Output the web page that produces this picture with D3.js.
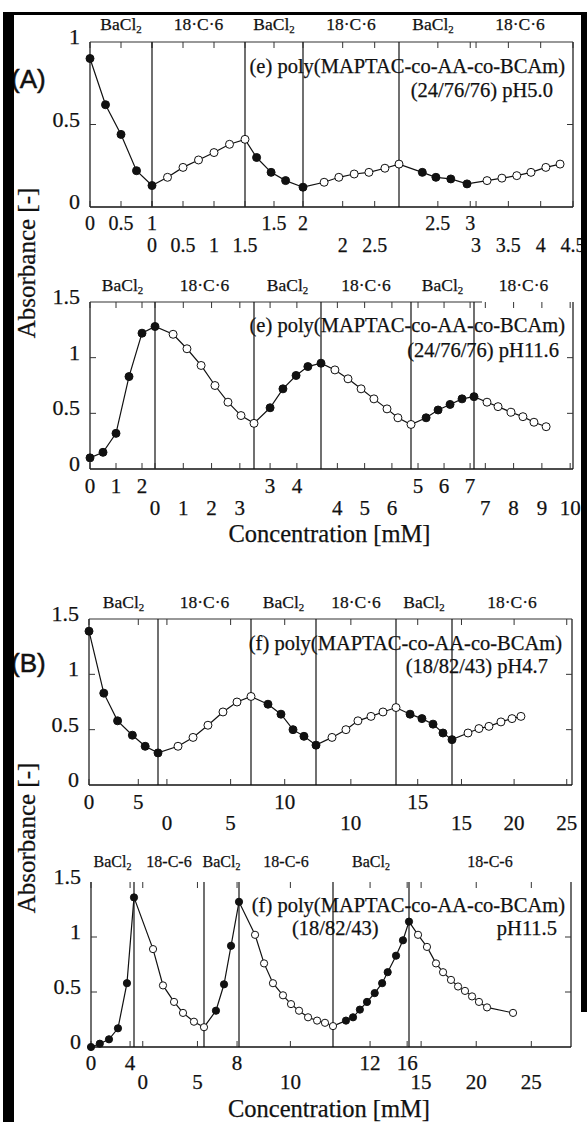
<!DOCTYPE html>
<html><head><meta charset="utf-8">
<script src="https://cdn.jsdelivr.net/npm/d3@7"></script>
<style>
body{margin:0;background:#fff}
svg{display:block}
text{font-family:"Liberation Serif","Times New Roman",serif;fill:#111;stroke:#111;stroke-width:0.25px}
</style></head>
<body><svg id="c" width="587" height="1122"></svg>
<script>
// ---------------- DATA ----------------
const reagents = ["BaCl2", "18-C-6", "BaCl2", "18-C-6", "BaCl2", "18-C-6"];
const yTicksA = [0, 0.5, 1];
const yTicksB = [0, 0.5, 1, 1.5];

// (A)(e) poly(MAPTAC-co-AA-co-BCAm) (24/76/76) pH5.0
const e50Domains = [[0,1],[0,1.5],[1,2],[1.38,2.88],[1.9,2.95],[2.86,4.5]];
const e50Ticks = [[0,0.5,1],[0,0.5,1,1.5],[1.5,2],[2,2.5],[2.5,3],[3,3.5,4,4.5]];
const e50Conc = [[0,0.25,0.5,0.75,1],[0.25,0.5,0.75,1,1.25,1.5],[1.2,1.45,1.7,2.0],
  [1.71,1.94,2.18,2.41,2.66,2.88],[2.26,2.47,2.70,2.95],[3.17,3.40,3.63,3.85,4.08,4.30]];
const e50Abs = [[0.90,0.62,0.44,0.22,0.13],[0.18,0.24,0.285,0.33,0.38,0.41],[0.30,0.21,0.16,0.12],
  [0.15,0.18,0.20,0.21,0.235,0.26],[0.21,0.18,0.17,0.14],[0.16,0.175,0.19,0.21,0.24,0.26]];

// (A)(e) pH11.6
const e116Domains = [[0,2.5],[0,3.5],[2.4,4.9],[3.4,6.7],[4.73,7.15],[6.6,10.1]];
const e116Ticks = [[0,1,2],[0,1,2,3],[3,4],[4,5,6],[5,6,7],[7,8,9,10]];
const e116Conc = [[0,0.5,1,1.5,2,2.5],[0.64,1.13,1.63,2.12,2.58,3.04,3.5],[3.0,3.48,3.97,4.41,4.9],
  [3.91,4.39,4.87,5.34,5.82,6.22,6.7],[5.31,5.77,6.23,6.69,7.15],[7.06,7.45,7.91,8.33,8.72,9.15]];
const e116Abs = [[0.10,0.15,0.32,0.83,1.22,1.28],[1.21,1.08,0.93,0.75,0.60,0.48,0.41],[0.55,0.72,0.84,0.92,0.95],
  [0.89,0.81,0.72,0.63,0.54,0.46,0.40],[0.46,0.53,0.58,0.63,0.65],[0.60,0.56,0.51,0.47,0.42,0.38]];

// (B)(f) poly(MAPTAC-co-AA-co-BCAm) (18/82/43) pH4.7
const f47Domains = [[0,7],[-0.7,6.6],[7.2,12.6],[6.6,14.4],[13.1,18],[14.1,25.5]];
const f47Ticks = [[0,5],[0,5],[10],[10],[15],[15,20,25]];
const f47Conc = [[0,1.5,2.9,4.4,5.7,7.0],[0.87,2.05,3.22,4.4,5.5,6.6],[8.61,9.69,10.69,11.6,12.6],
  [8.16,9.52,10.69,11.96,13.13,14.4],[14.33,15.37,16.34,17.21,18.0],[15.62,16.66,17.61,18.75,19.8,20.65]];
const f47Abs = [[1.39,0.83,0.58,0.45,0.35,0.29],[0.35,0.43,0.54,0.66,0.75,0.80],[0.73,0.64,0.50,0.44,0.36],
  [0.43,0.50,0.58,0.62,0.66,0.70],[0.64,0.60,0.55,0.47,0.41],[0.47,0.51,0.53,0.57,0.60,0.62]];

// (B)(f) pH11.5
const f115Domains = [[0,4.4],[-0.8,5.6],[4.6,8.2],[5.9,13.4],[8,16.2],[13.9,28.6]];
const f115Ticks = [[0,4],[0,5],[8],[10],[12,16],[15,20,25]];
const f115Conc = [[0,0.9,1.84,2.76,3.68,4.4],[0.94,1.85,2.86,3.68,4.68,5.6],[5.83,6.66,7.38,8.2],
  [7.18,7.9,8.61,9.41,10.05,10.69,11.41,12.13,12.76,13.4],
  [9.4,10.16,10.9,11.67,12.5,13.3,13.9,14.8,15.55,16.2],
  [14.72,15.53,16.35,16.99,17.71,18.35,18.98,19.62,20.25,20.98,23.34]];
const f115Abs = [[0,0.03,0.07,0.17,0.58,1.36],[0.89,0.56,0.41,0.31,0.23,0.18],[0.33,0.57,0.92,1.32],
  [1.02,0.76,0.58,0.47,0.39,0.33,0.27,0.24,0.22,0.19],
  [0.24,0.27,0.34,0.41,0.49,0.58,0.68,0.83,0.97,1.14],
  [1.02,0.91,0.76,0.68,0.61,0.55,0.51,0.46,0.41,0.36,0.31]];

// ---------------- LAYOUT ----------------
const panels = [
 {domains:e50Domains, ticks:e50Ticks, conc:e50Conc, abs:e50Abs, yMax:1, yTicks:yTicksA,
  top:42, bottom:207, bounds:[90,152,245,303,399,467,573], vlines:[1,2,3,4], topBorder:[90,573],
  labelDy:-12, labelSize:17.5, crown:"18·C·6", r:4, row1:23, row2:45, tickFs:20,
  notes:[{t:"(e) poly(MAPTAC-co-AA-co-BCAm)",x:565,dy:31,a:"end"},{t:"(24/76/76) pH5.0",x:553,dy:55,a:"end"}]},
 {domains:e116Domains, ticks:e116Ticks, conc:e116Conc, abs:e116Abs, yMax:1.5, yTicks:yTicksB,
  top:302, bottom:469, bounds:[90,155,254,321,411,474,573], vlines:[1,2,3,4,5], topBorder:[90,482],
  labelDy:-11, labelSize:17.5, crown:"18·C·6", r:4, row1:24, row2:46, tickFs:21, xlabel:true, xlabelY:73,
  notes:[{t:"(e) poly(MAPTAC-co-AA-co-BCAm)",x:565,dy:30,a:"end"},{t:"(24/76/76) pH11.6",x:559,dy:55,a:"end"}]},
 {domains:f47Domains, ticks:f47Ticks, conc:f47Conc, abs:f47Abs, yMax:1.5, yTicks:yTicksB,
  top:619, bottom:785, bounds:[89,158,251,316,396,452,572], vlines:[1,2,3,4,5], topBorder:[89,572],
  labelDy:-11, labelSize:17.5, crown:"18·C·6", r:4, row1:24, row2:45, tickFs:21,
  notes:[{t:"(f) poly(MAPTAC-co-AA-co-BCAm)",x:562,dy:31,a:"end"},{t:"(18/82/43) pH4.7",x:548,dy:54,a:"end"}]},
 {domains:f115Domains, ticks:f115Ticks, conc:f115Conc, abs:f115Abs, yMax:1.5, yTicks:yTicksB,
  top:882, bottom:1047, bounds:[91,134,204,239,333,409,571], vlines:[1,2,3,4,5], topBorder:null,
  labelDy:-15, labelSize:16, crown:"18-C-6", r:3.6, row1:23, row2:42, tickFs:21, xlabel:true, xlabelY:70,
  notes:[{t:"(f) poly(MAPTAC-co-AA-co-BCAm)",x:565,dy:30,a:"end"},{t:"(18/82/43)",x:292,dy:53,a:"start"},{t:"pH11.5",x:557,dy:53,a:"end"}]}
];

const svg = d3.select("#c");
svg.append("rect").attr("width",587).attr("height",1122).attr("fill","#fff");

panels.forEach(p => {
  const L = p.bounds[0], R = p.bounds[p.bounds.length-1];
  const y = d3.scaleLinear().domain([0,p.yMax]).range([p.bottom,p.top]);
  const g = svg.append("g");
  const segScales = p.domains.map((d,i) => d3.scaleLinear().domain(d).range([p.bounds[i],p.bounds[i+1]]));

  g.append("line").attr("x1",L).attr("x2",L).attr("y1",p.top).attr("y2",p.bottom).attr("stroke","#222").attr("stroke-width",1.3);
  g.append("line").attr("x1",R).attr("x2",R).attr("y1",p.top).attr("y2",p.bottom).attr("stroke","#222").attr("stroke-width",1.3);
  g.append("line").attr("x1",L).attr("x2",R).attr("y1",p.bottom).attr("y2",p.bottom).attr("stroke","#111").attr("stroke-width",1.6);
  if (p.topBorder) g.append("line").attr("x1",p.topBorder[0]).attr("x2",p.topBorder[1]).attr("y1",p.top).attr("y2",p.top).attr("stroke","#333").attr("stroke-width",1.1);

  p.yTicks.forEach(v => {
    const yy = y(v);
    if (v>0 && v<p.yMax) {
      g.append("line").attr("x1",L).attr("x2",L+6).attr("y1",yy).attr("y2",yy).attr("stroke","#333");
      g.append("line").attr("x1",R).attr("x2",R-6).attr("y1",yy).attr("y2",yy).attr("stroke","#333");
    }
    g.append("text").attr("x",L-10).attr("y",yy-3).attr("text-anchor","end")
      .attr("dominant-baseline","middle").attr("font-size",22).text(String(v));
  });

  p.vlines.forEach(i => {
    g.append("line").attr("x1",p.bounds[i]).attr("x2",p.bounds[i]).attr("y1",p.top).attr("y2",p.bottom)
      .attr("stroke","#111").attr("stroke-width",1.2);
  });

  segScales.forEach((s,i) => {
    const row = i % 2 === 0 ? 1 : 2;
    p.ticks[i].forEach(v => {
      const xx = s(v);
      g.append("line").attr("x1",xx).attr("x2",xx).attr("y1",p.bottom).attr("y2",p.bottom-6).attr("stroke","#333");
      g.append("line").attr("x1",xx).attr("x2",xx).attr("y1",p.top).attr("y2",p.top+6).attr("stroke","#333");
      g.append("text").attr("x",xx).attr("y",p.bottom + (row===1?p.row1:p.row2)).attr("text-anchor","middle")
        .attr("font-size",p.tickFs).text(String(v));
    });
    const mid = (s.range()[0]+s.range()[1])/2;
    const t = g.append("text").attr("x",mid).attr("y",p.top+p.labelDy).attr("text-anchor","middle")
      .attr("font-size",p.labelSize);
    if (reagents[i]==="BaCl2") {
      t.append("tspan").text("BaCl");
      t.append("tspan").attr("font-size",p.labelSize*0.62).attr("dy",3).text("2");
    } else t.text(p.crown);
  });

  const pts = [];
  segScales.forEach((s,i) => p.conc[i].forEach((c,k) => pts.push({x:s(c), y:y(p.abs[i][k]), filled: i%2===0})));
  g.append("path").attr("d", d3.line().x(d=>d.x).y(d=>d.y)(pts)).attr("fill","none").attr("stroke","#111").attr("stroke-width",1.2);
  g.selectAll("circle.m").data(pts).enter().append("circle")
    .attr("cx",d=>d.x).attr("cy",d=>d.y).attr("r",p.r)
    .attr("fill",d=>d.filled?"#111":"#fff").attr("stroke","#111").attr("stroke-width",1);

  p.notes.forEach(n => g.append("text").attr("x",n.x).attr("y",p.top+n.dy).attr("text-anchor",n.a)
    .attr("font-size",20.5).text(n.t));

  if (p.xlabel) g.append("text").attr("x",(L+R)/2 - 2).attr("y",p.bottom+p.xlabelY).attr("text-anchor","middle")
    .attr("font-size",24.5).text("Concentration [mM]");
});

[[29,263],[29,838]].forEach(([x,yc]) => {
  svg.append("text").attr("transform",`translate(${x},${yc}) rotate(-90)`).attr("text-anchor","middle")
    .attr("dominant-baseline","middle").attr("font-size",25).text("Absorbance [-]");
});

[["(A)",88],["(B)",672]].forEach(([t,yy]) => {
  svg.append("text").attr("x",11).attr("y",yy)
    .style("font-family","'Liberation Sans',Arial,sans-serif").style("stroke-width","0.5px").attr("font-size",26).text(t);
});

svg.append("rect").attr("x",3).attr("y",12).attr("width",11).attr("height",1110).attr("fill","#000");
svg.append("rect").attr("x",3).attr("y",12).attr("width",584).attr("height",3).attr("fill","#000");
svg.append("rect").attr("x",581).attr("y",12).attr("width",6).attr("height",1000).attr("fill","#000");
</script></body></html>
